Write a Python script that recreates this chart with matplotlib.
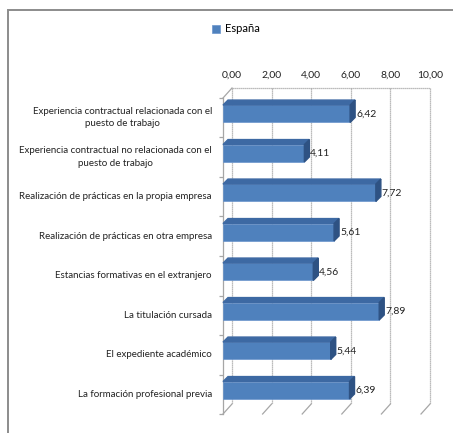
import matplotlib
matplotlib.use("Agg")
import matplotlib.pyplot as plt
from matplotlib.patches import Polygon, Rectangle

plt.rcParams['font.family'] = ['Lato', 'DejaVu Sans']

categorias = [
    "Experiencia contractual relacionada con el\npuesto de trabajo",
    "Experiencia contractual no relacionada con el\npuesto de trabajo",
    "Realización de prácticas en la propia empresa",
    "Realización de prácticas en otra empresa",
    "Estancias formativas en el extranjero",
    "La titulación cursada",
    "El expediente académico",
    "La formación profesional previa",
]
valores = [6.42, 4.11, 7.72, 5.61, 4.56, 7.89, 5.44, 6.39]
ticks_x = [0, 2, 4, 6, 8, 10]
serie = "España"

frente = "#4F81BD"
techo = "#3D69A3"
lado = "#2E5283"
gris = "#A6A6A6"

W, H = 453, 433
fig = plt.figure(figsize=(W / 100, H / 100), dpi=100)

# marco del gráfico
fig.patches.append(Rectangle((8 / W, -0.05), 1.2, (H - 10) / H + 0.05,
                             transform=fig.transFigure, fill=False,
                             edgecolor="#8C8C8C", lw=1.4))

ax = fig.add_axes([223 / W, (H - 414) / H, 198 / W, (414 - 98) / H])
n = len(categorias)
ax.set_xlim(0, 10)
ax.set_ylim(n - 0.5, -0.5)

# pixeles por unidad de datos
px_x = ax.bbox.width / 10
px_y = ax.bbox.height / n

# desplazamiento del plano de fondo y profundidad de las barras
fx, fy = 9 / px_x, -10 / px_y
bx, by = 5 / px_x, -5 / px_y
sube = -4 / px_y  # las barras quedan algo por encima del centro del hueco

# pared de fondo y suelo
for t in ticks_x:
    ax.plot([t + fx, t + fx], [-0.5 + fy, n - 0.5 + fy], color=gris,
            lw=0.9, ls=(0, (1, 0.6)), clip_on=False, zorder=1)
    ax.plot([t, t + fx], [n - 0.5, n - 0.5 + fy], color=gris, lw=0.9,
            clip_on=False, zorder=1)
    ax.text(t + fx, -0.5 + fy - 10 / px_y, f"{t:.2f}".replace(".", ","),
            ha="center", va="baseline", fontsize=7.5, color="#222222")
ax.plot([fx, 10 + fx], [-0.5 + fy, -0.5 + fy], color=gris, lw=0.9,
        ls=(0, (1, 0.6)), clip_on=False, zorder=1)
ax.plot([0, fx], [-0.5, -0.5 + fy], color=gris, lw=0.9, clip_on=False,
        zorder=1)

h = 0.44
ys = list(range(n))
yb = [y + sube for y in ys]
ax.barh(yb, valores, height=h, color=frente, edgecolor="#6A95CC",
        linewidth=0.5, zorder=3, label=serie)
for y, v in zip(yb, valores):
    top = y - h / 2
    bot = y + h / 2
    ax.add_patch(Polygon([(0, top), (v, top), (v + bx, top + by),
                          (bx, top + by)], closed=True, color=techo,
                         zorder=3, clip_on=False))
    ax.add_patch(Polygon([(v, top), (v, bot), (v + bx, bot + by),
                          (v + bx, top + by)], closed=True, color=lado,
                         zorder=3, clip_on=False))
    ax.text(v + bx + 1 / px_x, y, f"{v:.2f}".replace(".", ","),
            ha="left", va="center", fontsize=7.5, color="#222222",
            zorder=4)

# etiquetas de categoría: cada línea centrada, bloque pegado al eje
renderer = fig.canvas.get_renderer()
interlinea = 12.5 / px_y
for y, cat in zip(ys, categorias):
    lineas = cat.split("\n")
    ancho = 0
    for ln in lineas:
        t = ax.text(0, 0, ln, fontsize=7)
        ancho = max(ancho, t.get_window_extent(renderer).width)
        t.remove()
    xc = (-11 - ancho / 2) / px_x
    y0 = y - interlinea * (len(lineas) - 1) / 2
    for i, ln in enumerate(lineas):
        ax.text(xc, y0 + i * interlinea, ln, ha="center", va="center",
                fontsize=7, color="#222222")

ax.set_yticks([y + 0.5 for y in range(-1, n)])
ax.set_yticklabels([])
ax.tick_params(axis="y", length=3, color=gris, width=0.9)
ax.set_xticks([])
for s in ["top", "right", "bottom"]:
    ax.spines[s].set_visible(False)
ax.spines["left"].set_color(gris)
ax.spines["left"].set_linewidth(0.9)

fig.legend(loc="center", bbox_to_anchor=(236 / W, (H - 29) / H),
           frameon=False, fontsize=8, handlelength=0.7, handleheight=0.7,
           handletextpad=0.4)

fig.savefig("out.png", dpi=100)
